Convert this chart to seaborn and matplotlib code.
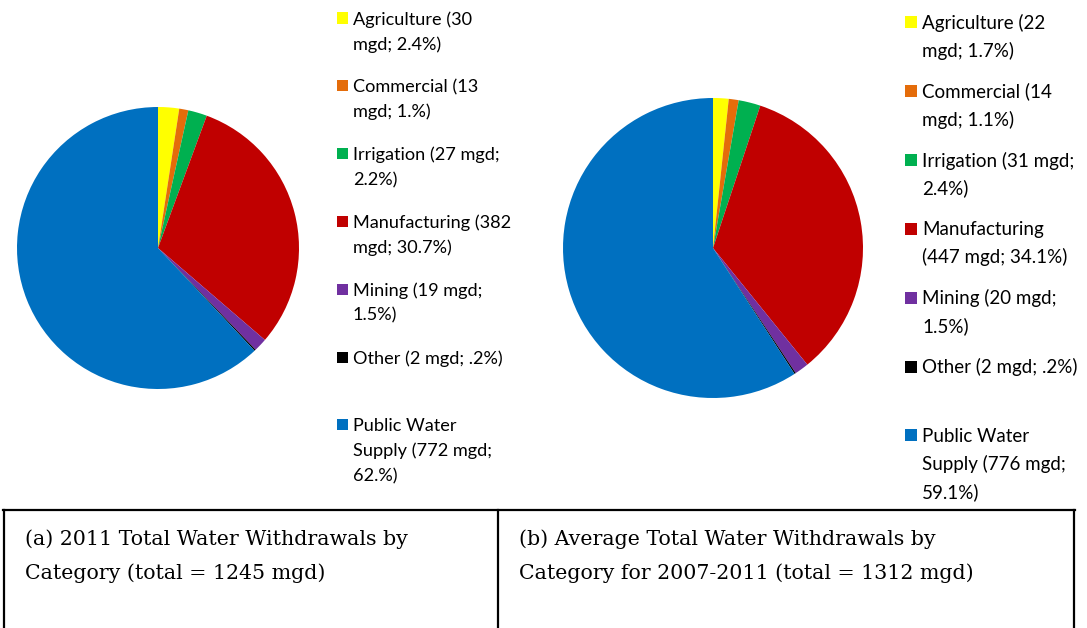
import matplotlib
matplotlib.use("Agg")
import matplotlib.pyplot as plt
from matplotlib.patches import Rectangle
from matplotlib.lines import Line2D
import seaborn as sns

# ---------------- data ----------------
categories = ["Agriculture", "Commercial", "Irrigation", "Manufacturing",
              "Mining", "Other", "Public Water Supply"]
mgd_2011 = [30, 13, 27, 382, 19, 2, 772]
mgd_avg = [22, 14, 31, 447, 20, 2, 776]
labels_2011 = ["Agriculture (30\nmgd; 2.4%)",
               "Commercial (13\nmgd; 1.%)",
               "Irrigation (27 mgd;\n2.2%)",
               "Manufacturing (382\nmgd; 30.7%)",
               "Mining (19 mgd;\n1.5%)",
               "Other (2 mgd; .2%)",
               "Public Water\nSupply (772 mgd;\n62.%)"]
labels_avg = ["Agriculture (22\nmgd; 1.7%)",
              "Commercial (14\nmgd; 1.1%)",
              "Irrigation (31 mgd;\n2.4%)",
              "Manufacturing\n(447 mgd; 34.1%)",
              "Mining (20 mgd;\n1.5%)",
              "Other (2 mgd; .2%)",
              "Public Water\nSupply (776 mgd;\n59.1%)"]
caption_a = ["(a) 2011 Total Water Withdrawals by",
             "Category (total = 1245 mgd)"]
caption_b = ["(b) Average Total Water Withdrawals by",
             "Category for 2007-2011 (total = 1312 mgd)"]
hex_colors = ["#FFFF00", "#E46C0A", "#00B050", "#C00000",
              "#7030A0", "#000000", "#0070C0"]

# ---------------- style ----------------
sns.set_theme(style="white")
plt.rcParams["font.family"] = ["Lato", "DejaVu Sans"]
colors = sns.color_palette(hex_colors)

W, H = 1087, 628
fig = plt.figure(figsize=(W / 100, H / 100), dpi=100)
fig.patch.set_facecolor("white")


def fx(px):
    return px / W


def fy(py):
    return 1 - py / H


def draw_pie(values, cx, cy, r):
    ax = fig.add_axes([fx(cx - r), fy(cy + r), 2 * r / W, 2 * r / H])
    ax.pie(values, colors=colors, startangle=90, counterclock=False,
           radius=1, wedgeprops=dict(linewidth=0))
    ax.set_xlim(-1, 1)
    ax.set_ylim(-1, 1)
    ax.set_aspect("equal")
    ax.axis("off")


def draw_legend(labels, mx, tx, y0, dy, lh, ms, fs):
    em = fs * 100 / 72
    for i, lab in enumerate(labels):
        yc = y0 + i * dy
        fig.add_artist(Rectangle((fx(mx), fy(yc + ms / 2)), ms / W, ms / H,
                                 transform=fig.transFigure,
                                 facecolor=colors[i], edgecolor="none"))
        for j, line in enumerate(lab.split("\n")):
            fig.text(fx(tx), fy(yc + j * lh + 0.36 * em), line,
                     fontsize=fs, color="black", va="baseline", ha="left",
                     family=["Lato", "DejaVu Sans"])


draw_pie(mgd_2011, 158, 248, 141)
draw_pie(mgd_avg, 713, 248, 150)

draw_legend(labels_2011, 337, 353, 18, 67.8, 25, 11, 13.1)
draw_legend(labels_avg, 905, 922, 22, 68.9, 28, 12, 13.5)

# ---------------- caption table ----------------
lw = 1.6
top = 510
for (x0, y0, x1, y1) in [(3, top, 1075, top), (4, top, 4, H + 2),
                         (498, top, 498, H + 2), (1074, top, 1074, H + 2)]:
    fig.add_artist(Line2D([fx(x0), fx(x1)], [fy(y0), fy(y1)],
                          transform=fig.transFigure, color="black",
                          linewidth=lw, solid_capstyle="projecting"))

cfs = 14.8
cem = cfs * 100 / 72
for cx, cap in [(25, caption_a), (519, caption_b)]:
    for j, line in enumerate(cap):
        fig.text(fx(cx), fy(537 + j * 34 + 0.37 * cem), line, fontsize=cfs,
                 color="black", va="baseline", ha="left",
                 family=["DejaVu Serif"])

fig.savefig("out.png", dpi=100, facecolor="white")
